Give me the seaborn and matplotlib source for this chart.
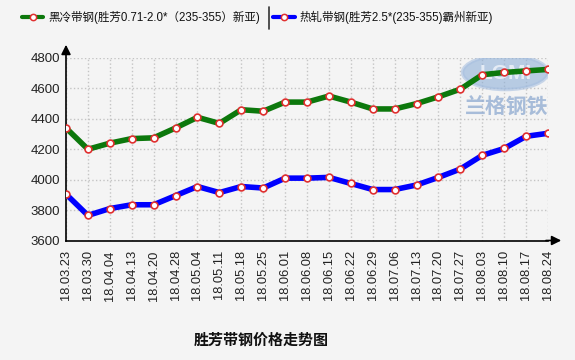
import matplotlib
matplotlib.use("Agg")
import matplotlib.pyplot as plt
from matplotlib.lines import Line2D
from matplotlib.patches import Ellipse
import seaborn as sns
import pandas as pd

dates = ["18.03.23", "18.03.30", "18.04.04", "18.04.13", "18.04.20", "18.04.28",
         "18.05.04", "18.05.11", "18.05.18", "18.05.25", "18.06.01", "18.06.08",
         "18.06.15", "18.06.22", "18.06.29", "18.07.06", "18.07.13", "18.07.20",
         "18.07.27", "18.08.03", "18.08.10", "18.08.17", "18.08.24"]
cold_strip = [4340, 4200, 4240, 4270, 4275, 4340, 4410, 4370, 4460, 4450, 4510, 4510,
              4550, 4510, 4465, 4465, 4500, 4545, 4595, 4690, 4705, 4715, 4725]
hot_strip = [3905, 3765, 3810, 3835, 3835, 3895, 3955, 3915, 3955, 3945, 4010, 4010,
             4015, 3975, 3935, 3935, 3965, 4015, 4070, 4160, 4205, 4285, 4305]
series_names = ["黑冷带钢(胜芳0.71-2.0*（235-355）新亚)", "热轧带钢(胜芳2.5*(235-355)霸州新亚)"]
y_ticks = [3600, 3800, 4000, 4200, 4400, 4600, 4800]
title = "胜芳带钢价格走势图"

sns.set_theme(style="white")
plt.rcParams["font.family"] = ["Liberation Sans", "Noto Sans CJK SC", "DejaVu Sans"]

BG = "#f4f4f4"
GREEN = "#0c780c"
BLUE = "#0000ff"

fig = plt.figure(figsize=(5.75, 3.6), dpi=100, facecolor=BG)
ax = fig.add_axes([66 / 575, 1 - 240.5 / 360, (548 - 66) / 575, (240.5 - 58) / 360])
ax.set_facecolor(BG)

x = list(range(len(dates)))
df = pd.DataFrame({"x": x * 2,
                   "price": cold_strip + hot_strip,
                   "series": [series_names[0]] * len(x) + [series_names[1]] * len(x)})

# watermark (logo)
ax.add_patch(Ellipse((20.05, 4705), 3.9, 225, facecolor="#8fb0d8", edgecolor="#a8c0e0",
                     alpha=0.6, lw=2.5, zorder=1))
ax.text(20.05, 4700, "LGMI", ha="center", va="center", fontsize=15, fontweight="bold",
        color="#e8eef7", alpha=0.95, zorder=1)
ax.text(20.1, 4478, "兰格钢铁", ha="center", va="center", fontsize=15, fontweight="bold",
        color="#8eaad0", alpha=0.75, zorder=1, family=["Noto Sans CJK SC"])

sns.lineplot(data=df, x="x", y="price", hue="series", palette=[GREEN, BLUE],
             linewidth=4, legend=False, ax=ax, zorder=3, sort=False)
for ln in ax.lines:
    ln.set_solid_joinstyle("round")
    ln.set_solid_capstyle("round")
sns.scatterplot(data=df, x="x", y="price", color="white", edgecolor="#e03030",
                s=24, linewidth=1.2, legend=False, ax=ax, zorder=4)

ax.set_xlim(0, len(dates) - 1)
ax.set_ylim(3600, 4800)
ax.set_xticks(x)
ax.set_xticklabels(dates, rotation=90, fontsize=9.3, color="#222222")
ax.set_yticks(y_ticks)
ax.set_yticklabels([str(v) for v in y_ticks], fontsize=9.5, color="#222222")
ax.set_xlabel("")
ax.set_ylabel("")
ax.grid(True, color="#c4c4c4", linestyle=":", linewidth=1)
ax.tick_params(axis="x", direction="out", length=4, width=1, color="black", pad=3)
ax.tick_params(axis="y", direction="in", length=6, width=1, color="black", pad=4)

for s in ["top", "right"]:
    ax.spines[s].set_visible(False)
for s in ["left", "bottom"]:
    ax.spines[s].set_color("black")
    ax.spines[s].set_linewidth(1.2)

# axis arrows
ax.annotate("", xy=(0, 1 + 16 / 182.5), xytext=(0, 0.99), xycoords="axes fraction",
            arrowprops=dict(arrowstyle="-|>", color="black", lw=1.2, mutation_scale=14),
            annotation_clip=False)
ax.annotate("", xy=(1 + 16 / 482, 0), xytext=(0.99, 0), xycoords="axes fraction",
            arrowprops=dict(arrowstyle="-|>", color="black", lw=1.2, mutation_scale=14),
            annotation_clip=False)

# legend
ly = 1 - 17 / 360
fig.add_artist(Line2D([22 / 575, 43 / 575], [ly, ly], color=GREEN, lw=3))
fig.add_artist(Line2D([32.5 / 575], [ly], marker="o", markersize=4.5, markerfacecolor="white",
                      markeredgecolor="#e03030", markeredgewidth=1.1, linestyle="none"))
fig.text(48 / 575, ly, series_names[0], fontsize=8.3, va="center", ha="left", color="#111111")
fig.add_artist(Line2D([269 / 575, 269 / 575], [1 - 7 / 360, 1 - 29 / 360], color="#333333", lw=1.2))
fig.add_artist(Line2D([273 / 575, 295 / 575], [ly, ly], color=BLUE, lw=3))
fig.add_artist(Line2D([284 / 575], [ly], marker="o", markersize=4.5, markerfacecolor="white",
                      markeredgecolor="#e03030", markeredgewidth=1.1, linestyle="none"))
fig.text(300 / 575, ly, series_names[1], fontsize=8.3, va="center", ha="left", color="#111111")

fig.text(261 / 575, 1 - 341 / 360, title, fontsize=10.8, fontweight="bold", ha="center",
         va="center", color="#111111")

fig.savefig("out.png", dpi=100, facecolor=BG)
